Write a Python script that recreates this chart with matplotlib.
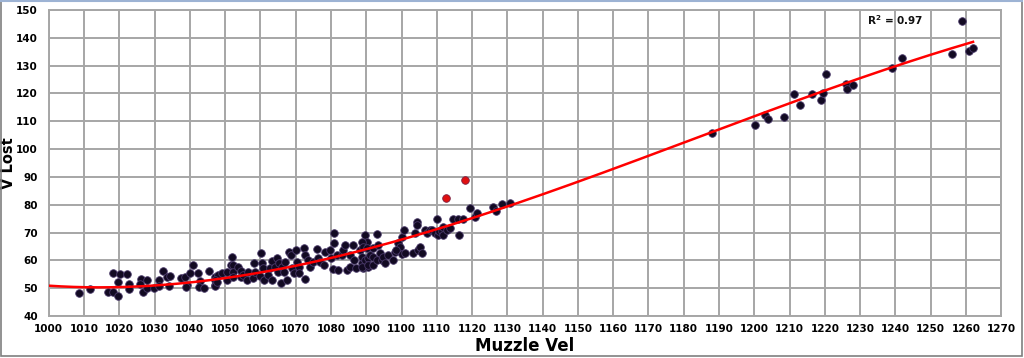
import numpy as np
import matplotlib
matplotlib.use("Agg")
import matplotlib.pyplot as plt
from matplotlib.patches import Rectangle

# Main (black) data points: muzzle velocity vs velocity lost
muzzle_vel = [
    1008.7, 1011.7, 1016.7, 1018.2, 1019.7, 1018.2, 1020.3, 1022.3, 1019.7, 1022.8,
    1022.8, 1026.2, 1027.9, 1025.9, 1026.8, 1027.9, 1029.9, 1031.3, 1031.3, 1032.5,
    1033.6, 1034.4, 1034.0, 1037.4, 1038.6, 1039.2, 1038.9, 1040.0, 1041.0, 1042.4,
    1042.9, 1042.5, 1044.0, 1045.4, 1047.1, 1047.1, 1048.1,
    1047.2, 1047.2, 1047.6, 1049.2, 1050.6, 1050.6, 1051.9, 1051.6, 1052.3, 1052.3,
    1052.3, 1053.7, 1054.4, 1054.4, 1055.2, 1056.1, 1056.6, 1057.8, 1058.3, 1058.5,
    1059.9, 1060.2, 1060.4, 1060.8, 1061.1, 1062.2, 1062.7, 1063.2, 1063.2, 1064.1,
    1064.6, 1065.1, 1065.4, 1065.8, 1066.0, 1066.7, 1067.0, 1067.6, 1068.2, 1068.7,
    1068.9, 1069.6, 1070.1, 1070.3, 1070.8, 1071.0, 1072.4, 1072.6, 1072.6, 1073.6,
    1074.1, 1075.0, 1076.0, 1076.4, 1076.9, 1078.0, 1078.3, 1079.7, 1079.9, 1080.5,
    1081.0, 1081.0, 1081.6, 1082.1, 1083.0, 1083.5, 1084.0, 1084.5, 1085.4, 1085.4,
    1086.3, 1086.5, 1087.1, 1088.2, 1088.7, 1089.2, 1089.7, 1090.1, 1090.1, 1090.6,
    1088.7, 1089.2, 1090.1, 1088.7, 1089.7, 1088.7, 1090.6, 1090.6, 1091.1, 1092.0,
    1092.0, 1092.0, 1093.0, 1093.1, 1093.4, 1093.9, 1094.4, 1094.8, 1095.3, 1096.3,
    1097.7, 1098.2, 1099.1, 1099.6, 1100.1, 1100.1, 1100.8, 1101.0, 1103.2, 1103.8,
    1104.3, 1104.3, 1104.8, 1105.1, 1105.7, 1106.7, 1107.1, 1108.1, 1108.6, 1109.5,
    1110.0, 1110.2, 1110.5, 1111.4, 1111.8, 1111.8, 1113.0, 1113.6, 1114.5, 1115.9,
    1116.4, 1117.3, 1119.4, 1120.8, 1121.5, 1125.8, 1126.8, 1128.4, 1130.8, 1098.4,
    1187.9, 1200.1, 1203.0, 1203.8, 1208.3, 1211.3, 1212.9, 1216.4, 1218.9, 1219.5,
    1220.4, 1225.9, 1226.4, 1228.0, 1239.0, 1241.9, 1255.9, 1258.9, 1260.9, 1262.0,
]
v_lost = [
    48.2, 49.6, 48.7, 48.7, 47.1, 55.5, 55.2, 55.2, 52.1, 51.5,
    49.6, 53.2, 52.9, 51.4, 48.7, 50.2, 50.0, 52.9, 50.9, 56.2,
    54.0, 54.5, 50.8, 53.8, 54.0, 51.0, 50.5, 55.6, 58.5, 55.6,
    52.6, 50.3, 50.0, 56.1, 53.9, 51.2, 54.7,
    52.9, 50.8, 52.1, 55.6, 52.9, 55.9, 61.1, 58.3, 58.3, 55.9,
    53.9, 57.7, 56.2, 53.9, 54.7, 52.9, 55.9, 53.6, 58.9, 55.7,
    54.5, 62.5, 58.9, 57.2, 52.9, 54.7, 57.2, 52.9, 59.8, 57.7,
    60.7, 55.9, 59.2, 52.0, 57.7, 55.9, 59.5, 52.9, 63.1, 61.9,
    57.2, 55.4, 63.7, 59.5, 57.7, 55.6, 64.6, 53.3, 61.9, 60.1,
    57.7, 59.5, 64.1, 60.7, 59.5, 58.3, 63.1, 63.7, 60.7, 56.8,
    69.7, 66.1, 61.9, 56.5, 61.9, 63.7, 65.5, 56.5, 57.7, 61.9,
    65.5, 60.1, 57.2, 63.7, 58.9, 57.2, 69.1, 66.7, 60.1, 57.7,
    66.7, 64.9, 64.3, 61.3, 60.1, 57.7, 60.7, 58.3, 61.9, 64.3,
    61.3, 58.3, 60.1, 69.5, 65.5, 62.5, 60.1, 61.3, 59.0, 61.9,
    60.1, 63.1, 66.1, 64.9, 62.3, 68.5, 70.9, 62.5, 62.5, 69.7,
    73.9, 72.7, 63.7, 64.9, 62.8, 70.9, 70.0, 70.9, 70.9, 69.7,
    74.8, 69.1, 70.7, 70.7, 72.1, 69.1, 70.9, 71.5, 74.8, 74.8,
    69.1, 74.8, 78.7, 75.7, 76.9, 79.3, 77.9, 80.2, 80.7, 63.7,
    105.9, 108.8, 112.3, 110.9, 111.6, 119.7, 115.7, 119.7, 117.6, 120.1,
    127.0, 123.5, 121.5, 123.2, 129.0, 132.6, 134.3, 146.0, 135.2, 136.2,
]

# Highlighted (red) points
red_vel = [1112.6, 1118.1]
red_lost = [82.5, 88.8]

# Trend line (polynomial trendline)
trend_vel = [1000, 1003, 1046, 1071, 1090, 1133, 1183, 1220, 1239, 1262]
trend_lost = [50.6, 50.5, 54.0, 58.6, 63.7, 79.5, 103.9, 121.9, 129.6, 138.0]

r2_label = "R$^{\\mathbf{2}}$ = 0.97"

fig = plt.figure(figsize=(10.24, 3.58), dpi=100)
ax = fig.add_axes([0.0476, 0.1173, 0.9302, 0.8547])

grid_c = "#a6a6a6"
ax.set_xlim(1000, 1270)
ax.set_ylim(40, 150)
ax.set_xticks(np.arange(1000, 1271, 10))
ax.set_yticks(np.arange(40, 151, 10))
ax.grid(True, color=grid_c, linewidth=1.4)
ax.set_axisbelow(True)
for s in ax.spines.values():
    s.set_color(grid_c)
    s.set_linewidth(1.4)
ax.tick_params(length=0, labelsize=7.5)
ax.tick_params(axis="x", pad=6)
ax.tick_params(axis="y", pad=8)
for lab in ax.get_xticklabels() + ax.get_yticklabels():
    lab.set_fontweight("bold")

ax.scatter(muzzle_vel, v_lost, s=30, color="#120a22", edgecolors="#4a3a6a",
           linewidths=0.6, zorder=3)
ax.scatter(red_vel, red_lost, s=30, color="#e01010", edgecolors="#7a2040",
           linewidths=0.6, zorder=3)

# Smooth trend curve through the read trendline values
coef = np.polyfit(np.array(trend_vel) - 1100, trend_lost, 3)
xs = np.linspace(trend_vel[0], trend_vel[-1], 300)
ax.plot(xs, np.polyval(coef, xs - 1100), color="#ff0000", linewidth=1.8, zorder=4)

ax.text(1240, 146.5, r2_label, fontsize=7.5, fontweight="bold", ha="center",
        va="center", color="#111111")

ax.set_xlabel("Muzzle Vel", fontsize=12, fontweight="bold", labelpad=2)
ax.set_ylabel("V Lost", fontsize=10.5, fontweight="bold")
ax.yaxis.set_label_coords(-0.034, 0.5)

# Outer frame of the chart area
fig.patches.append(Rectangle((0.001, 0.006), 0.997, 0.99, transform=fig.transFigure,
                             fill=False, edgecolor="#7f7f7f", linewidth=1.2))
fig.lines.append(plt.Line2D([0.001, 0.998], [0.996, 0.996], transform=fig.transFigure,
                            color="#9db3d4", linewidth=1.5))

fig.savefig("out.png", dpi=100)
